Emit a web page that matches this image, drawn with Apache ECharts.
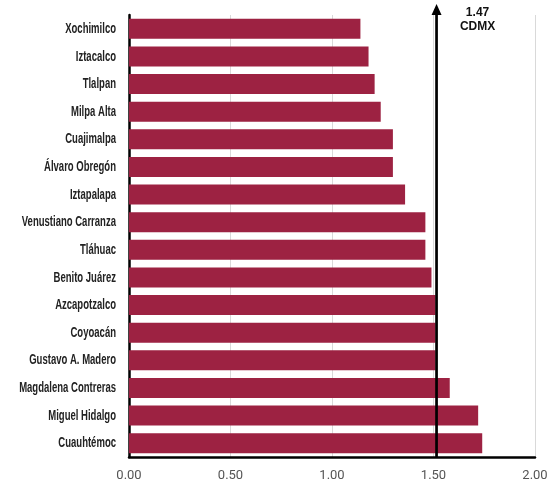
<!DOCTYPE html>
<html>
<head>
<meta charset="utf-8">
<script src="https://cdn.jsdelivr.net/npm/echarts@6/dist/echarts.min.js"></script>
<style>html,body{margin:0;padding:0;background:#fff;}#c{width:550px;height:484px;}</style>
</head>
<body>
<div id="c"></div>
<script>
const categories = ["Xochimilco","Iztacalco","Tlalpan","Milpa Alta","Cuajimalpa","Álvaro Obregón","Iztapalapa","Venustiano Carranza","Tláhuac","Benito Juárez","Azcapotzalco","Coyoacán","Gustavo A. Madero","Magdalena Contreras","Miguel Hidalgo","Cuauhtémoc"];
const values = [1.14,1.18,1.21,1.24,1.30,1.30,1.36,1.46,1.46,1.49,1.51,1.51,1.51,1.58,1.72,1.74];
const xTicks = [0,0.5,1,1.5,2];
const cdmxPosition = 1.515;
const cdmxLabel = ["1.47","CDMX"];

const chart = echarts.init(document.getElementById('c'), null, {renderer:'canvas'});
const option = {
  animation:false,
  grid:{left:129,right:15,top:15,bottom:27,containLabel:false,outerBoundsMode:'none'},
  xAxis:{type:'value',min:xTicks[0],max:xTicks[xTicks.length-1],interval:0.5,
    axisLine:{show:true,lineStyle:{color:'#000',width:2.5}},
    axisTick:{show:false},
    splitLine:{show:true,lineStyle:{color:'#d9d9d9',width:1}},
    axisLabel:{color:'#555',fontSize:13,fontFamily:'Roboto',margin:12,formatter:v=>v.toFixed(2)}
  },
  yAxis:{type:'category',data:categories,inverse:true,
    axisLine:{show:true,lineStyle:{color:'#000',width:2.5}},
    axisTick:{show:false},
    axisLabel:{show:false}
  },
  series:[{type:'bar',data:values,barWidth:'72%',itemStyle:{color:'#9d2242'}}]
};
chart.setOption(option);
const px = chart.convertToPixel({xAxisIndex:0}, cdmxPosition);
const x0 = chart.convertToPixel({xAxisIndex:0}, 0);
const yBottom = 457, yTop = 4;
const graphics = [
  {type:'line',shape:{x1:px,y1:yBottom,x2:px,y2:yTop+8},style:{stroke:'#000',lineWidth:2.7},z:100},
  {type:'polygon',shape:{points:[[px,yTop],[px-5,yTop+11],[px+5,yTop+11]]},style:{fill:'#000'},z:100},
  {type:'text',x:px+41,y:20,style:{text:cdmxLabel.join('\n'),fill:'#111',font:'bold 12px "Liberation Sans", Arial, sans-serif',align:'center',verticalAlign:'middle',lineHeight:14},z:100}
];
categories.forEach(function(c){
  const cy = chart.convertToPixel({yAxisIndex:0}, c);
  graphics.push({type:'text',x:x0-13,y:cy,scaleX:0.635,
    style:{text:c,fill:'#222',font:'bold 15px "Liberation Sans", Arial, sans-serif',align:'right',verticalAlign:'middle'},z:100});
});
chart.setOption({graphic:graphics});
</script>
</body>
</html>
